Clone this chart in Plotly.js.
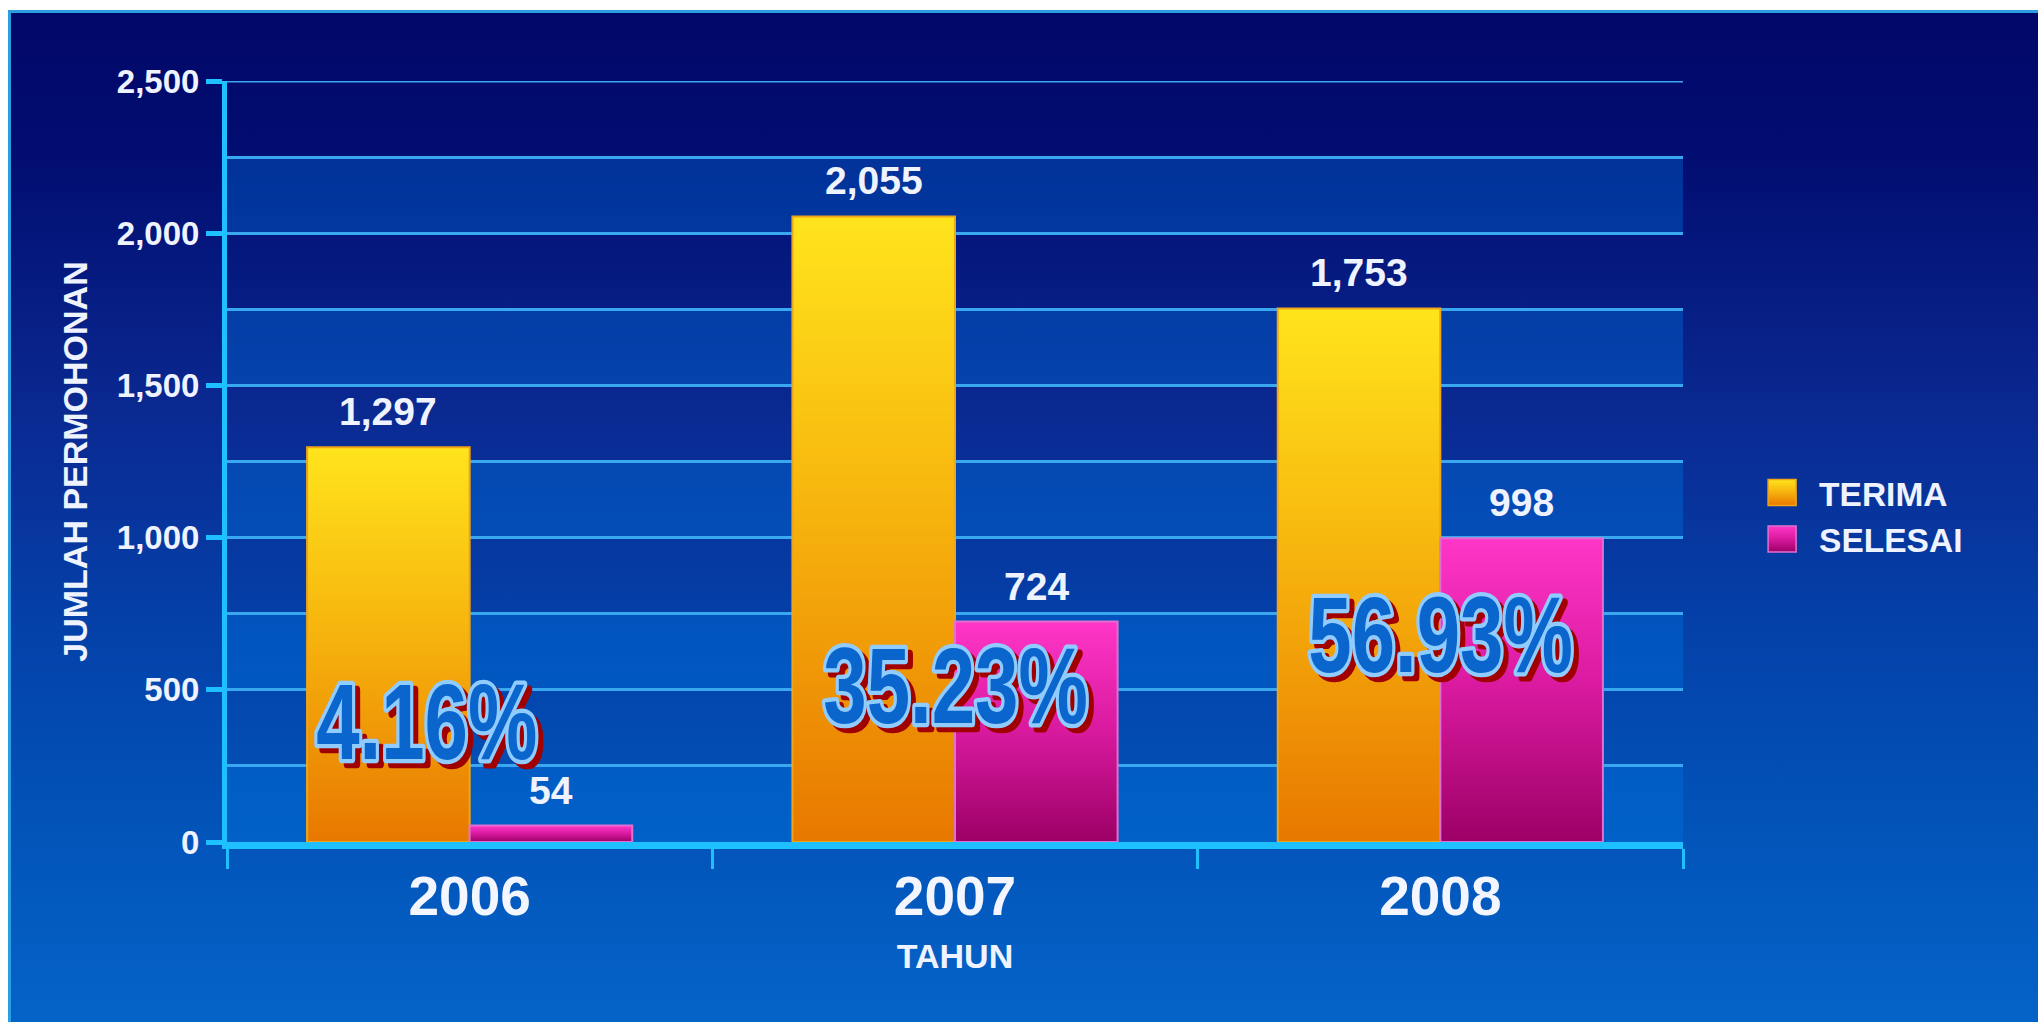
<!DOCTYPE html>
<html><head><meta charset="utf-8">
<script src="https://cdn.plot.ly/plotly-3.0.1.min.js"></script>
<style>
html,body{margin:0;padding:0;background:#fff;}
#wrap{position:relative;width:2038px;height:1022px;overflow:hidden;background:#fff;}
#panel{position:absolute;left:8px;top:10px;right:0;bottom:0;
 background:linear-gradient(to bottom,#010768 0%,#020e72 15%,#0a2a92 40%,#0440a8 60%,#0253b8 80%,#0563c8 100%);
 border-top:3px solid #2a9ee0;border-left:3px solid #2a9ee0;}
#chart{position:absolute;left:0;top:0;width:2038px;height:1022px;}
</style></head>
<body>
<div id="wrap"><div id="panel"></div><div id="chart"></div></div>
<script>
// ---- data ----
const years = ['2006', '2007', '2008'];
const terima = [1297, 2055, 1753];
const selesai = [54, 724, 998];
const pctLabels = ['4.16%', '35.23%', '56.93%'];
const seriesNames = ['TERIMA', 'SELESAI'];
const yTickVals = [0, 500, 1000, 1500, 2000, 2500];

// ---- layout config ----
const BARGAP = 0.33;
const half = (1 - BARGAP) / 4;
const pctPlace = [{y: 397, xshift: -43}, {y: 515, xshift: 0}, {y: 684, xshift: 0}];
const FONT = 'Liberation Sans, Arial, sans-serif';
const YMAX = yTickVals[yTickVals.length - 1];

const traces = [
  {type: 'bar', name: seriesNames[0], x: years, y: terima,
   marker: {color: '#f5a50a', line: {color: '#f0a418', width: 2}}, hoverinfo: 'skip'},
  {type: 'bar', name: seriesNames[1], x: years, y: selesai,
   marker: {color: '#e0209f', line: {color: '#e070d0', width: 2}}, hoverinfo: 'skip'}
];

const shapes = [];
for (let k = 0; k < YMAX; k += 500) {
  shapes.push({type: 'rect', xref: 'paper', yref: 'y', x0: 0, x1: 1, y0: k, y1: k + 250,
    fillcolor: 'rgba(0,120,230,0.35)', line: {width: 0}, layer: 'below'});
}
shapes.push({type: 'line', xref: 'paper', yref: 'y', x0: 0, x1: 1, y0: YMAX, y1: YMAX,
  line: {color: '#3aa8f0', width: 3}, layer: 'below'});

const annotations = [];
years.forEach((yr, i) => {
  [terima, selesai].forEach((arr, s) => {
    annotations.push({xref: 'x', yref: 'y', x: i + (s === 0 ? -half : half), y: arr[i],
      text: arr[i].toLocaleString('en-US'), showarrow: false, yanchor: 'bottom', yshift: 12,
      font: {family: FONT, size: 39, color: '#eef3ff', weight: 'bold'}});
  });
});
const pctStart = annotations.length;
years.forEach((yr, i) => {
  annotations.push({xref: 'x', yref: 'y', x: i, y: pctPlace[i].y, text: pctLabels[i],
    showarrow: false, xshift: pctPlace[i].xshift + 5, yshift: -5,
    font: {family: FONT, size: 100, color: '#a00000', weight: 'bold'}});
  annotations.push({xref: 'x', yref: 'y', x: i, y: pctPlace[i].y, text: pctLabels[i],
    showarrow: false, xshift: pctPlace[i].xshift, yshift: 0,
    font: {family: FONT, size: 100, color: '#0a66cc', weight: 'bold'}});
});

const layout = {
  width: 2038, height: 1022,
  paper_bgcolor: 'rgba(0,0,0,0)', plot_bgcolor: 'rgba(0,0,0,0)',
  margin: {l: 227, r: 355, t: 81, b: 180},
  barmode: 'group', bargap: BARGAP, bargroupgap: 0,
  showlegend: true,
  legend: {x: 1.066, xanchor: 'left', y: 0.428, yanchor: 'middle',
    font: {family: FONT, size: 33.5, color: '#eef3ff', weight: 'bold'},
    bgcolor: 'rgba(0,0,0,0)', itemclick: false, tracegroupgap: 0},
  xaxis: {type: 'category', tickson: 'boundaries', ticks: 'outside', ticklen: 20, tickwidth: 3,
    tickcolor: '#1ec0ff', showline: true, linecolor: '#1ec0ff', linewidth: 7,
    showgrid: false, zeroline: false,
    tickfont: {family: FONT, size: 55, color: '#f4f6ff', weight: 'bold'},
    title: {text: 'TAHUN', standoff: 21, font: {family: FONT, size: 34, color: '#eef3ff', weight: 'bold'}}},
  yaxis: {range: [0, YMAX], tickvals: yTickVals, tickformat: ',d', ticks: 'outside', ticklen: 16, tickwidth: 5,
    tickcolor: '#1ec0ff', showline: true, linecolor: '#1ec0ff', linewidth: 5,
    showgrid: true, gridcolor: '#3aa8f0', gridwidth: 3, zeroline: false,
    minor: {dtick: 250, showgrid: true, gridcolor: '#3aa8f0', gridwidth: 3, ticks: ''},
    tickfont: {family: FONT, size: 33, color: '#eef3ff', weight: 'bold'},
    title: {text: 'JUMLAH PERMOHONAN', standoff: 20, font: {family: FONT, size: 34, color: '#eef3ff', weight: 'bold'}}},
  shapes: shapes,
  annotations: annotations
};

const gd = document.getElementById('chart');
Plotly.newPlot(gd, traces, layout, {staticPlot: true}).then(() => {
  const svg = gd.querySelector('svg.main-svg');
  const NS = 'http://www.w3.org/2000/svg';
  const defs = document.createElementNS(NS, 'defs');
  function grad(id, stops) {
    const g = document.createElementNS(NS, 'linearGradient');
    g.setAttribute('id', id); g.setAttribute('x1', '0'); g.setAttribute('y1', '0');
    g.setAttribute('x2', '0'); g.setAttribute('y2', '1');
    stops.forEach(s => {
      const st = document.createElementNS(NS, 'stop');
      st.setAttribute('offset', s[0]); st.setAttribute('stop-color', s[1]);
      g.appendChild(st);
    });
    defs.appendChild(g);
  }
  grad('gradT', [['0', '#ffe41c'], ['0.45', '#f7b60e'], ['1', '#e87800']]);
  grad('gradS', [['0', '#ff36c8'], ['0.5', '#d8199e'], ['1', '#9c0066']]);
  svg.insertBefore(defs, svg.firstChild);
  const ids = ['gradT', 'gradS'];
  gd.querySelectorAll('.barlayer .trace').forEach((t, i) => {
    t.querySelectorAll('path').forEach(p => { p.style.fill = 'url(#' + ids[i] + ')'; });
  });
  gd.querySelectorAll('.legend .scrollbox, .legend [clip-path]').forEach(el => el.removeAttribute('clip-path'));
  gd.querySelectorAll('.legend .traces').forEach((t, i) => {
    t.querySelectorAll('.legendpoints path').forEach(p => {
      p.setAttribute('d', 'M-3,13H-31V-13H-3Z');
      p.style.fill = 'url(#' + ids[i] + ')';
      p.style.strokeWidth = '1.5px';
    });
  });
  gd.querySelectorAll('.annotation').forEach(a => {
    const idx = +a.getAttribute('data-index');
    if (idx >= pctStart) {
      const t = a.querySelector('text');
      const red = ((idx - pctStart) % 2) === 0;
      t.style.paintOrder = 'stroke fill';
      t.style.stroke = red ? '#a00000' : '#90ccff';
      t.style.strokeWidth = '8px';
      t.style.strokeLinejoin = 'round';
      const b = t.getBBox();
      const cx = b.x + b.width / 2, cy = b.y + b.height / 2;
      const prev = t.getAttribute('transform') || '';
      t.setAttribute('transform', prev + ' translate(' + cx + ',' + cy + ') scale(0.78,1.08) translate(' + (-cx) + ',' + (-cy) + ')');
    }
  });
});
</script>
</body></html>
